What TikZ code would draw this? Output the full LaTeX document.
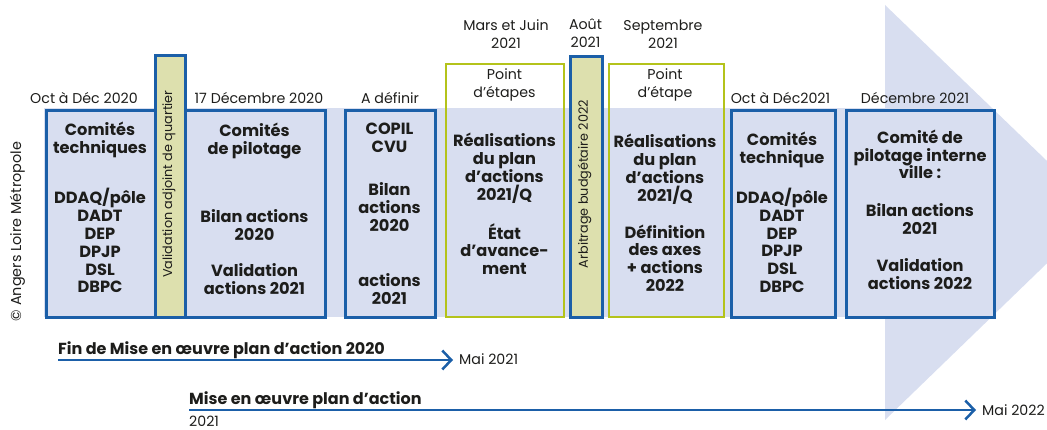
\documentclass[tikz,border=0pt]{standalone}
\usepackage{fontspec}
\setmainfont{Poppins}
\usetikzlibrary{arrows.meta}
\definecolor{myblue}{HTML}{1B5FA8}
\definecolor{lav}{HTML}{D8DEF0}
\definecolor{mygreen}{HTML}{B4C31B}
\definecolor{khaki}{HTML}{DDE0AE}
\definecolor{txt}{HTML}{1D1D1B}
\tikzset{
  bluebox/.style={draw=myblue, line width=3pt, fill=lav, inner sep=0pt, anchor=north west},
  greenbox/.style={draw=mygreen, line width=2.5pt, inner sep=0pt, anchor=north west},
  vbox/.style={draw=myblue, line width=3pt, fill=khaki, inner sep=0pt, anchor=north west},
  lbl/.style={font=\fontsize{14.2}{17.5}\selectfont, text=txt, align=center, inner sep=0pt},
  plain/.style={font=\fontsize{14.2}{17.5}\selectfont, text=txt, inner sep=0pt, anchor=base west},
  vlbl/.style={font=\fontsize{12.8}{16}\selectfont, text=txt, inner sep=0pt, rotate=90},
  body/.style={font=\fontsize{16.2}{17.8}\selectfont\bfseries, text=txt, align=center, inner sep=0pt},
  btitle/.style={font=\fontsize{16}{17.8}\selectfont\bfseries, text=txt, inner sep=0pt, anchor=base west},
  arr/.style={draw=myblue, line width=2.5pt, -{Straight Barb[length=9pt,width=19pt]}},
}
\begin{document}
\begin{tikzpicture}[x=1pt,y=-1pt]
\useasboundingbox (0,0) rectangle (1047,430);
\clip (0,0) rectangle (1047,430);
% background band and arrow head
\fill[lav] (44,108) rectangle (886,317);
\fill[lav] (885,5) -- (1100,212) -- (885,420) -- cycle;
% boxes
\node[bluebox, minimum width=109pt, minimum height=207pt] (b1) at (44.5,109) {};
\node[bluebox, minimum width=140pt, minimum height=207pt] (b2) at (184,109) {};
\node[vbox, minimum width=30.5pt, minimum height=262pt] (v1) at (153.5,54) {};
\node[bluebox, minimum width=90pt, minimum height=207pt] (b3) at (343.5,109) {};
\node[greenbox, minimum width=118pt, minimum height=253pt] (g1) at (444.5,63) {};
\node[vbox, minimum width=32pt, minimum height=261pt] (v2) at (568.5,55) {};
\node[greenbox, minimum width=115pt, minimum height=253pt] (g2) at (607.5,63) {};
\node[bluebox, minimum width=104pt, minimum height=207pt] (b5) at (730,109) {};
\node[bluebox, minimum width=148pt, minimum height=207pt] (b6) at (845,109) {};
% vertical labels
\node[vlbl] (v1t) at (168.8,184) {Validation adjoint de quartier};
\node[vlbl] (v2t) at (584.5,184) {Arbitrage budgétaire 2022};
\node[vlbl, font=\fontsize{14.4}{16}\selectfont] (copy) at (17.5,231.5) {© Angers Loire Métropole};
% top labels
\node[lbl] (l1) at (84,98) {Oct à Déc 2020};
\node[lbl] (l2) at (259,98) {17 Décembre 2020};
\node[lbl] (l3) at (390,98) {A définir};
\node[lbl] (l4) at (506,34) {Mars et Juin\\2021};
\node[lbl] (l5) at (585.5,33) {Août\\2021};
\node[lbl] (l6) at (663,34) {Septembre\\2021};
\node[lbl] (l7) at (780.5,98) {Oct à Déc2021};
\node[lbl] (l8) at (915,98) {Décembre 2021};
\node[lbl] (p1) at (504.5,85) {Point\\d’étapes};
\node[lbl] (p2) at (665,85) {Point\\d’étape};
% box texts
\node[body] (t1) at (100,207.5) {Comités\\techniques\\[30pt]DDAQ/pôle\\DADT\\DEP\\DPJP\\DSL\\DBPC};
\node[body] (t2) at (254.5,209) {Comités\\de pilotage\\[50pt]Bilan actions\\2020\\[19pt]Validation\\actions 2021};
\node[body] (t3) at (389.5,214) {COPIL\\CVU\\[25pt]Bilan\\actions\\2020\\[38pt]actions\\2021};
\node[body] (t4) at (504.5,204) {Réalisations\\du plan\\d’actions\\2021/Q\\[19pt]État\\d’avance-\\ment};
\node[body] (t5) at (665,213) {Réalisations\\du plan\\d’actions\\2021/Q\\[19pt]Définition\\des axes\\+ actions\\2022};
\node[body] (t6) at (782,212.5) {Comités\\technique\\[19pt]DDAQ/pôle\\DADT\\DEP\\DPJP\\DSL\\DBPC};
\node[body] (t7) at (920,209.5) {Comité de\\pilotage interne\\ville :\\[20pt]Bilan actions\\2021\\[19pt]Validation\\actions 2022};
% bottom timelines
\node[btitle] (f1) at (58,354) {Fin de Mise en œuvre plan d’action 2020};
\coordinate (a1s) at (58,360);
\coordinate (a1e) at (453,360);
\draw[arr] (a1s) -- (a1e);
\node[plain] (m1) at (459,364) {Mai 2021};
\node[btitle] (f2) at (189,404) {Mise en œuvre plan d’action};
\coordinate (a2s) at (189,410);
\coordinate (a2e) at (976,410);
\draw[arr] (a2s) -- (a2e);
\node[plain] (m2) at (982,415) {Mai 2022};
\node[plain] (y2) at (189,426.5) {2021};
\end{tikzpicture}
\end{document}
